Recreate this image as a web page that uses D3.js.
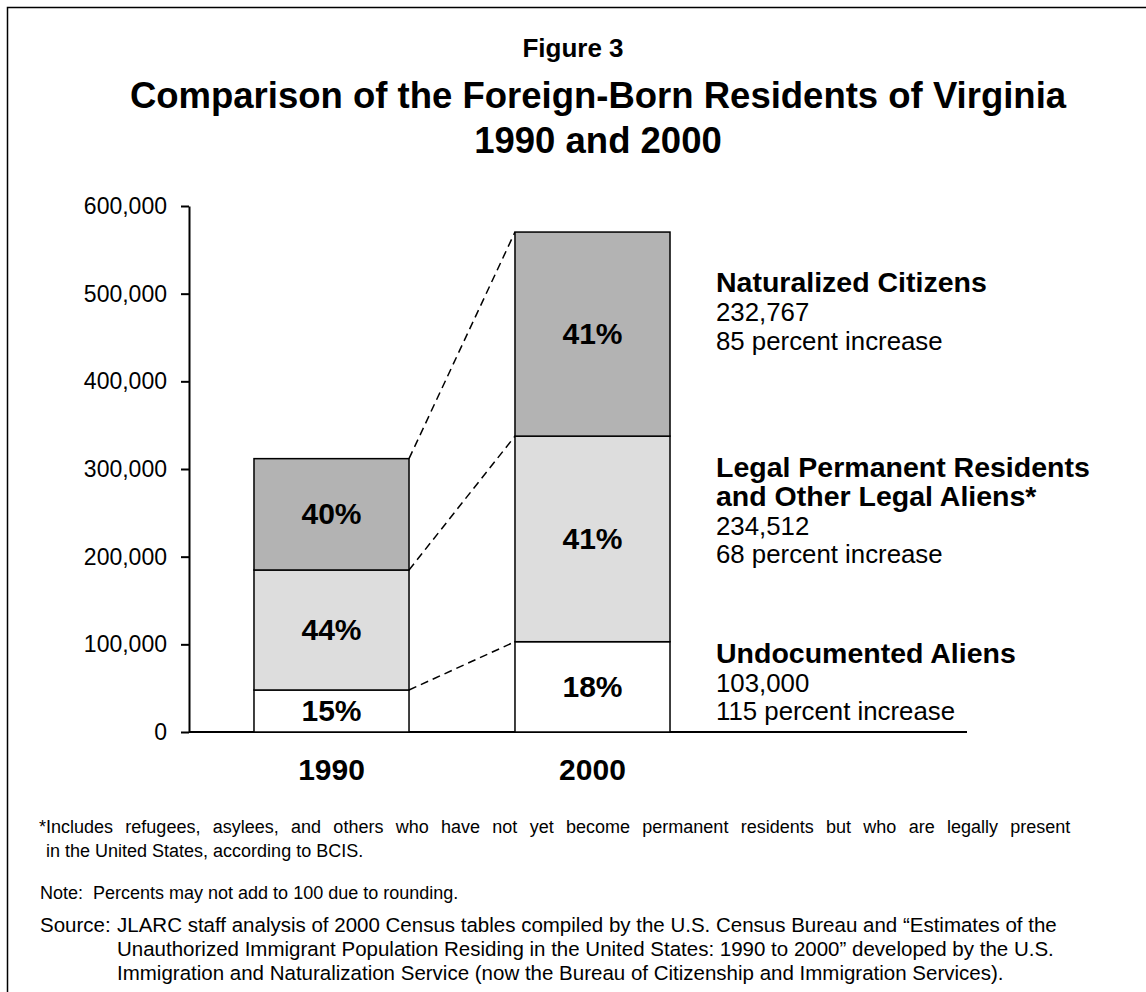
<!DOCTYPE html>
<html>
<head lang="en">
    <meta charset="UTF-8">
    <script src="https://cdn.jsdelivr.net/npm/d3@7/dist/d3.min.js"></script>
    <title>Figure 3</title>
    <style>
        body { margin: 0; background: #fff; }
        svg text { font-family: "Liberation Sans", Arial, Helvetica, sans-serif; fill: #000; }
    </style>
</head>
<body>
<div id="chart"></div>
<script>
    // categories
    var years = ["1990", "2000"];
    var totalLabels = ["n=311,809", "n=570,279"];

    // stacked values, bottom to top
    var undocumented = [47900, 103000];
    var legalResidents = [136900, 234512];
    var naturalized = [127009, 232767];

    // percent labels printed in the segments
    var undocumentedPct = ["15%", "18%"];
    var legalPct = ["44%", "41%"];
    var naturalizedPct = ["40%", "41%"];

    var yTicks = [0, 100000, 200000, 300000, 400000, 500000, 600000];

    // notes next to the 2000 bar
    var undocumentedNote = ["Undocumented Aliens", "103,000", "115 percent increase"];
    var legalNote = ["Legal Permanent Residents", "and Other Legal Aliens*", "234,512", "68 percent increase"];
    var naturalizedNote = ["Naturalized Citizens", "232,767", "85 percent increase"];

    var footnotes = [
        "*Includes refugees, asylees, and others who have not yet become permanent residents but who are legally present",
        "in the United States, according to BCIS."
    ];
    var noteLine = "Note:  Percents may not add to 100 due to rounding.";
    var sourceLines = [
        "JLARC staff analysis of 2000 Census tables compiled by the U.S. Census Bureau and \u201cEstimates of the",
        "Unauthorized Immigrant Population Residing in the United States: 1990 to 2000\u201d developed by the U.S.",
        "Immigration and Naturalization Service (now the Bureau of Citizenship and Immigration Services)."
    ];

    var series = [
        {key: "undoc", values: undocumented, pct: undocumentedPct, note: undocumentedNote, bold: 1, fill: "#ffffff", nudge: -24},
        {key: "legal", values: legalResidents, pct: legalPct, note: legalNote, bold: 2, fill: "#dddddd", nudge: -62},
        {key: "natur", values: naturalized, pct: naturalizedPct, note: naturalizedNote, bold: 1, fill: "#b3b3b3", nudge: -42}
    ];

    var rows = years.map(function(yr, i) {
        var r = {year: yr};
        series.forEach(function(s) { r[s.key] = s.values[i]; });
        return r;
    });

    var stack = d3.stack().keys(series.map(function(s) { return s.key; }));
    var layers = stack(rows);

    var W = 1146, H = 992;
    var svg = d3.select("#chart").append("svg")
            .attr("width", W)
            .attr("height", H);

    // frame (only left and top edges show)
    svg.append("path")
            .attr("d", "M7.5," + H + "V7.5H" + W)
            .attr("fill", "none")
            .attr("stroke", "#000")
            .attr("stroke-width", 1.5);

    // titles
    svg.append("text").attr("x", 573).attr("y", 57)
            .attr("text-anchor", "middle").attr("font-size", 26).attr("font-weight", "bold")
            .text("Figure 3");
    svg.append("text").attr("x", 598).attr("y", 108)
            .attr("text-anchor", "middle").attr("font-size", 36.5).attr("font-weight", "bold")
            .text("Comparison of the Foreign-Born Residents of Virginia");
    svg.append("text").attr("x", 598).attr("y", 153)
            .attr("text-anchor", "middle").attr("font-size", 36.5).attr("font-weight", "bold")
            .text("1990 and 2000");

    var y = d3.scaleLinear().domain([0, 600000]).range([732, 206]);
    var x = d3.scaleBand().domain(years).range([189, 735])
            .paddingInner(0.406).paddingOuter(0.249);
    var bw = x.bandwidth();

    // y axis
    var yAxis = svg.append("g")
            .attr("transform", "translate(189,0)")
            .call(d3.axisLeft(y).tickValues(yTicks).tickFormat(d3.format(","))
                    .tickSize(8).tickSizeOuter(0).tickPadding(14));
    yAxis.select(".domain").attr("stroke-width", 2);
    yAxis.selectAll(".tick line").attr("stroke-width", 2);
    yAxis.selectAll(".tick text")
            .attr("font-size", 23)
            .attr("font-family", "Liberation Sans, Arial, sans-serif");

    // baseline
    svg.append("line")
            .attr("x1", 189).attr("x2", 967)
            .attr("y1", y(0)).attr("y2", y(0))
            .attr("stroke", "#000").attr("stroke-width", 2);

    // dashed connectors between the bars
    layers.forEach(function(layer) {
        svg.append("line")
                .attr("x1", x(years[0]) + bw).attr("y1", y(layer[0][1]))
                .attr("x2", x(years[1])).attr("y2", y(layer[1][1]))
                .attr("stroke", "#000").attr("stroke-width", 1.5)
                .attr("stroke-dasharray", "8,5");
    });

    // bar segments
    layers.forEach(function(layer, li) {
        svg.append("g").selectAll("rect")
                .data(layer)
                .enter().append("rect")
                .attr("x", function(d) { return x(d.data.year); })
                .attr("y", function(d) { return y(d[1]); })
                .attr("width", bw)
                .attr("height", function(d) { return y(d[0]) - y(d[1]); })
                .attr("fill", series[li].fill)
                .attr("stroke", "#000")
                .attr("stroke-width", 1.5);
    });

    // percent labels
    layers.forEach(function(layer, li) {
        svg.append("g").selectAll("text")
                .data(layer)
                .enter().append("text")
                .attr("x", function(d) { return x(d.data.year) + bw / 2; })
                .attr("y", function(d) { return (y(d[0]) + y(d[1])) / 2 + 10; })
                .attr("text-anchor", "middle")
                .attr("font-size", 30)
                .attr("font-weight", "bold")
                .text(function(d, i) { return series[li].pct[i]; });
    });

    // totals above the bars
    var top = layers[layers.length - 1];
    svg.append("g").selectAll("text")
            .data(top)
            .enter().append("text")
            .attr("x", function(d) { return x(d.data.year) + bw / 2; })
            .attr("y", function(d) { return y(d[1]) - 13; })
            .attr("text-anchor", "middle")
            .attr("font-size", 28.5)
            .attr("font-weight", "bold")
            .text(function(d, i) { return totalLabels[i]; });

    // year labels
    svg.append("g").selectAll("text")
            .data(years)
            .enter().append("text")
            .attr("x", function(d) { return x(d) + bw / 2; })
            .attr("y", 780)
            .attr("text-anchor", "middle")
            .attr("font-size", 30)
            .attr("font-weight", "bold")
            .text(function(d) { return d; });

    // notes for 2000
    layers.forEach(function(layer, li) {
        var s = series[li];
        var d = layer[1];
        var y0 = (y(d[0]) + y(d[1])) / 2 + s.nudge;
        var g = svg.append("g");
        s.note.forEach(function(line, k) {
            g.append("text")
                    .attr("x", 716)
                    .attr("y", y0 + k * 28.8)
                    .attr("font-size", k < s.bold ? 28.5 : 25.8)
                    .attr("font-weight", k < s.bold ? "bold" : "normal")
                    .text(line);
        });
    });

    // footnotes
    var foot = svg.append("g").attr("font-size", 18);
    // first line is justified in the original
    foot.append("text").attr("x", 39).attr("y", 833)
            .attr("word-spacing", 7.3)
            .text(footnotes[0]);
    foot.append("text").attr("x", 46).attr("y", 857).text(footnotes[1]);
    foot.append("text").attr("x", 40).attr("y", 899)
            .style("white-space", "pre").text(noteLine);

    var src = svg.append("g").attr("font-size", 20.5);
    src.append("text").attr("x", 40).attr("y", 932).text("Source:");
    sourceLines.forEach(function(line, i) {
        src.append("text")
                .attr("x", 117)
                .attr("y", 932 + i * 24)
                .text(line);
    });
</script>
</body>
</html>
